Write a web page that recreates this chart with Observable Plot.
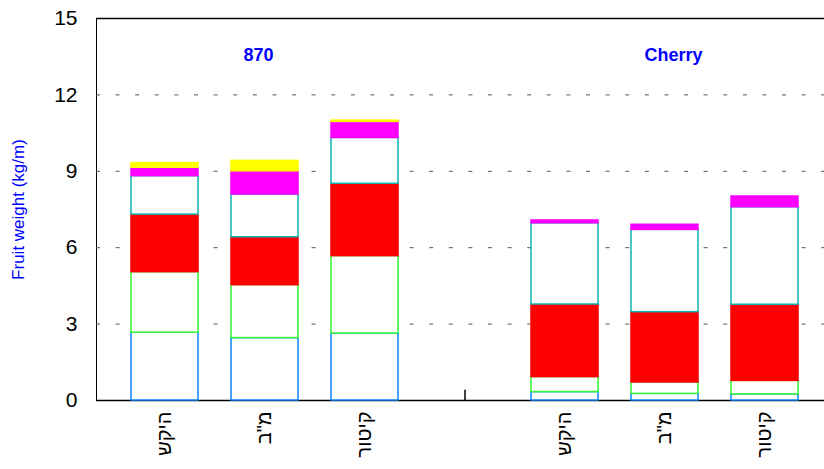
<!DOCTYPE html>
<html>
<head>
<meta charset="utf-8">
<script src="https://cdn.jsdelivr.net/npm/d3@7"></script>
<script src="https://cdn.jsdelivr.net/npm/@observablehq/plot@0.6"></script>
<style>
  html, body { margin: 0; padding: 0; background: #fff; }
  #chart svg { display: block; }
  #chart [aria-label^="y-axis"] { font-size: 21px; }
  #chart [aria-label^="x-axis"] { font-size: 20px; }
</style>
</head>
<body>
<div id="chart"></div>
<script>
// Categories (keys) and their tick labels
const categories = ["870|היקש", "870|מ\"ב", "870|קיטור", "gap", "Cherry|היקש", "Cherry|מ\"ב", "Cherry|קיטור"];
const tickLabels = ["היקש", "מ\"ב", "קיטור", "", "היקש", "מ\"ב", "קיטור"];

// Stacked series (bottom to top)
const seriesNames = ["s1", "s2", "s3", "s4", "s5", "s6"];
const s1 = [2.66, 2.45, 2.63, 0, 0.33, 0.26, 0.24];
const s2 = [2.38, 2.08, 3.04, 0, 0.59, 0.45, 0.53];
const s3 = [2.26, 1.88, 2.84, 0, 2.85, 2.76, 2.99];
const s4 = [1.51, 1.68, 1.80, 0, 3.19, 3.23, 3.83];
const s5 = [0.33, 0.91, 0.63, 0, 0.11, 0.20, 0.42];
const s6 = [0.18, 0.41, 0.05, 0, 0, 0, 0];
const seriesFills = ["#ffffff", "#ffffff", "#ff0000", "#ffffff", "#ff00ff", "#ffff00"];
const seriesStrokes = ["#0a84ff", "#33f533", "#ff0000", "#10b4b4", "#ff00ff", "#ffff00"];

// Group titles
const groupLabels = ["870", "Cherry"];
const groupAt = ["870|מ\"ב", "Cherry|מ\"ב"];
const groupLabelY = 13.55;

// Axis values
const yTicks = [0, 3, 6, 9, 12, 15];
const gridValues = [3, 6, 9, 12];
const frameLines = [0, 15];
const separator = [{key: "gap", y1: 0, y2: 0.4}];
const yLabel = "Fruit weight (kg/m)";

const allSeries = [s1, s2, s3, s4, s5, s6];
const table = [];
categories.forEach((c, i) => {
  allSeries.forEach((arr, j) => {
    if (arr[i] > 0 || j === 0) {
      table.push({cat: c, series: seriesNames[j], value: arr[i], fill: seriesFills[j], stroke: seriesStrokes[j]});
    }
  });
});

const labelMap = new Map(categories.map((c, i) => [c, tickLabels[i]]));

const chart = Plot.plot({
  width: 824,
  height: 469,
  marginTop: 18,
  marginBottom: 69,
  marginLeft: 96,
  marginRight: 0,
  style: {fontFamily: "'Liberation Sans', Arial, sans-serif", background: "#ffffff", color: "#000"},
  x: {
    domain: categories,
    paddingInner: 0.33,
    paddingOuter: 0.165,
    insetLeft: 18.5,
    insetRight: 9.5,
    tickSize: 0,
    tickPadding: 11,
    tickRotate: -90,
    tickFormat: d => labelMap.get(d),
    label: null
  },
  y: {
    domain: [0, 15],
    ticks: yTicks,
    tickSize: 0,
    tickPadding: 19,
    line: true,
    label: null
  },
  color: {type: "identity"},
  marks: [
    Plot.ruleY(gridValues, {stroke: "#555", strokeWidth: 1, strokeDasharray: "4,15.6"}),
    Plot.ruleY(frameLines, {stroke: "#000", strokeWidth: 1.5}),
    Plot.ruleX(separator, {x: "key", y1: "y1", y2: "y2", stroke: "#000", strokeWidth: 1.5}),
    Plot.barY(table, Plot.stackY({
      x: "cat",
      y: "value",
      z: "series",
      order: null,
      fill: "fill",
      stroke: "stroke",
      strokeWidth: 1.5
    })),
    Plot.text([groupLabels[0]], {x: () => groupAt[0], y: () => groupLabelY, text: d => d, dx: -6.5, fill: "#0000ff", fontWeight: "bold", fontSize: 18}),
    Plot.text([groupLabels[1]], {x: () => groupAt[1], y: () => groupLabelY, text: d => d, dx: 8.5, fill: "#0000ff", fontWeight: "bold", fontSize: 18}),
    Plot.text([yLabel], {frameAnchor: "left", textAnchor: "middle", dx: -78, rotate: -90, text: d => d, fill: "#0000ff", fontSize: 17})
  ]
});
document.getElementById("chart").appendChild(chart);
</script>
</body>
</html>
